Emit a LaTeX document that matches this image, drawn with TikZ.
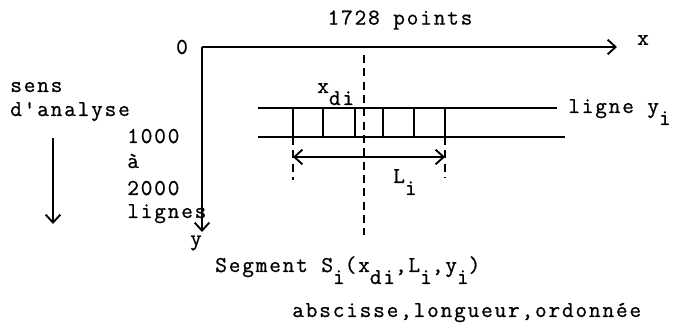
\documentclass[tikz,border=0pt]{standalone}
\usepackage{fontspec}
\setmonofont{Latin Modern Mono}[LetterSpace=8, FakeBold=0.8]
\usetikzlibrary{arrows.meta}
\newcommand\lowsub[1]{\raisebox{-9pt}{#1}}

\begin{document}
\begin{tikzpicture}[x=0.75pt, y=-0.75pt,
            txt/.style={font=\ttfamily\fontsize{17}{19}\selectfont, inner sep=0pt},
            txtw/.style={txt, anchor=base west},
            axis/.style={line width=1.1pt, -{Straight Barb[length=6pt,width=11pt,line width=1.4pt]}},
            strip/.style={line width=1.1pt},
            cut/.style={line width=1.1pt, dash pattern=on 6pt off 4pt},
            span/.style={line width=1.1pt, {Straight Barb[length=6pt,width=11pt,line width=1.4pt]}-{Straight Barb[length=6pt,width=11pt,line width=1.4pt]}}
        ]
    \useasboundingbox (0,0) rectangle (674,327);

    % axes
    \coordinate (O)    at (202,47);
    \coordinate (xend) at (617,47);
    \coordinate (yend) at (202,232);
    \draw[axis] (O) -- (xend);
    \draw[axis] (O) -- (yend);
    \node[txt] (zero) at (182,47)  {0};
    \node[txt] (xlab) at (643,40)  {x};
    \node[txt] (ylab) at (196,243) {y};
    \node[txt] (npts) at (400,20)  {1728 points};

    % sens d'analyse
    \node[txtw] (sens) at (10,92)  {sens};
    \node[txtw] (anal) at (10,116) {d'analyse};
    \coordinate (sa) at (53,138);
    \coordinate (sb) at (53,224);
    \draw[axis] (sa) -- (sb);

    \node[txtw] (n1)  at (127,143) {1000};
    \node[txtw] (n2)  at (127,168) {à};
    \node[txtw] (n3)  at (127,195) {2000};
    \node[txtw] (n4)  at (127,218) {lignes};

    % ligne y_i
    \coordinate (ta) at (258,108);
    \coordinate (tb) at (557,108);
    \coordinate (ba) at (258,137);
    \coordinate (bb) at (565,137);
    \draw[strip] (ta) -- (tb);
    \draw[strip] (ba) -- (bb);
    \foreach \px in {293,323,355,383,414,445}
        \draw[strip] (\px,108) -- (\px,137);
    \node[txtw] (ligne) at (568,113) {ligne y\lowsub{i}};

    % segment
    \coordinate (ca) at (364,55);
    \coordinate (cb) at (364,235);
    \coordinate (la) at (293,137);
    \coordinate (lb) at (293,180);
    \coordinate (ra) at (445,137);
    \coordinate (rb) at (445,178);
    \coordinate (sl) at (293,157);
    \coordinate (sr) at (445,157);
    \draw[cut] (ca) -- (cb);
    \draw[cut] (la) -- (lb);
    \draw[cut] (ra) -- (rb);
    \draw[span] (sl) -- (sr);
    \node[txtw] (xdi) at (317,93)  {x\lowsub{di}};
    \node[txtw] (li)  at (393,183) {L\lowsub{i}};

    \node[txtw] (seg) at (215,272) {Segment S\lowsub{i}(x\lowsub{di},L\lowsub{i},y\lowsub{i})};
    \node[txtw] (abs) at (292,317) {abscisse,longueur,ordonnée};

\end{tikzpicture}
\end{document}
